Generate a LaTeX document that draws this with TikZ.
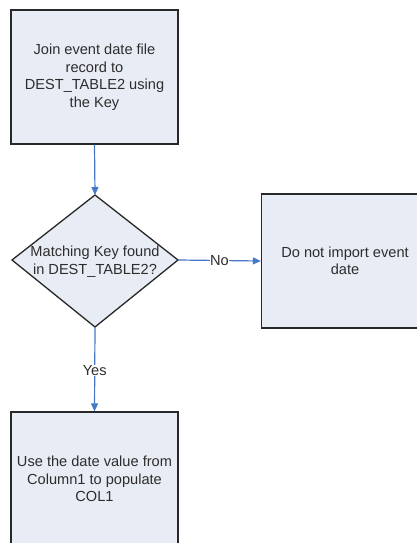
\documentclass[tikz,border=0pt]{standalone}
\usepackage{fontspec}
\setmainfont{Liberation Sans}
\usetikzlibrary{arrows.meta}
\definecolor{boxfill}{RGB}{232,236,245}
\definecolor{boxline}{RGB}{40,40,40}
\definecolor{flowblue}{RGB}{70,120,200}
\definecolor{txt}{RGB}{45,45,45}
\tikzset{
  x=1pt, y=-1pt,
  procbox/.style={draw=boxline, fill=boxfill, line width=1.3pt, minimum width=167pt, minimum height=134pt, inner sep=0pt, text=txt, align=center, font=\fontsize{14.6}{17.5}\selectfont},
  decshape/.style={draw=boxline, fill=boxfill, line width=1.3pt},
  dectext/.style={text=txt, align=center, inner sep=0pt, font=\fontsize{14.6}{18}\selectfont},
  flow/.style={draw=flowblue, line width=1.2pt, -{Triangle[length=8pt,width=7pt]}},
  flowplain/.style={draw=flowblue, line width=1.2pt},
  edgelabel/.style={text=txt, fill=white, inner sep=0.5pt, font=\fontsize{14.6}{17}\selectfont}
}
\begin{document}
\begin{tikzpicture}
\useasboundingbox (0,0) rectangle (417,543);
\clip (0,0) rectangle (417,543);
\fill[white] (0,0) rectangle (417,543);
% box 1
\node[procbox] (join) at (94.5,77) {Join event date file\\record to\\DEST\_TABLE2 using\\the Key};
% diamond
\coordinate (dt) at (95,195);
\coordinate (dr) at (178,260);
\coordinate (db) at (95,327);
\coordinate (dl) at (12,260);
\draw[decshape] (dt) -- (dr) -- (db) -- (dl) -- cycle;
\node[dectext] (dectxt) at (95,262) {Matching Key found\\in DEST\_TABLE2?};
% box 2
\node[procbox] (noimp) at (345,261) {Do not import event\\date};
% box 3
\node[procbox] (use) at (94.5,479) {Use the date value from\\Column1 to populate\\COL1};
% connectors
\draw[flow] (join.south) -- (dt);
\draw[flow] (dr) -- node[edgelabel] (nolab) {No} (noimp.west);
\draw[flow] (db) -- node[edgelabel, pos=0.52] (yeslab) {Yes} (use.north);
\end{tikzpicture}
\end{document}
